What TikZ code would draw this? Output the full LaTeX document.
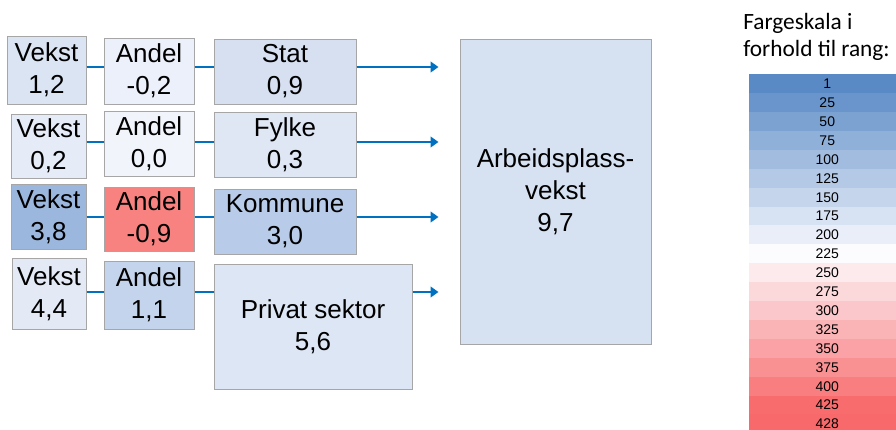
\documentclass[tikz,border=0pt]{standalone}
\usepackage{fontspec}
\setmainfont{Liberation Sans}
\newfontfamily\calibri{Carlito}
\usetikzlibrary{positioning,arrows.meta}
\definecolor{linjeblaa}{HTML}{0070C0}
\definecolor{kant}{HTML}{A6A6A6}
\definecolor{cblue}{HTML}{5A8AC6}
\definecolor{cwhite}{HTML}{FCFCFF}
\definecolor{cred}{HTML}{F8696B}

\begin{document}
\begin{tikzpicture}[x=0.75pt,y=-0.75pt]
	\tikzstyle{boks}=[rectangle, draw=kant, line width=0.75pt, inner sep=0pt, align=center,
	text=black, font=\fontsize{19.5}{24}\selectfont]
	\tikzstyle{line}=[-, draw=linjeblaa, line width=1.5pt]
	\tikzstyle{pil}=[line, -{Triangle[length=6pt,width=8pt]}, shorten >=15.75pt]
	\tikzstyle{rang}=[rectangle, inner sep=0pt, minimum width=117pt, minimum height=14.3pt,
	anchor=north west, font=\fontsize{10.5}{12}\selectfont]
	\useasboundingbox (0,0) rectangle (896,429);

	\node (Vekst1) [boks, fill={rgb,255:red,218;green,228;blue,243}, minimum width=59.25pt, minimum height=51pt] at (46.5,70) {Vekst\\1,2};
	\node (Andel1) [boks, fill={rgb,255:red,236;green,240;blue,250}, minimum width=67.5pt, minimum height=49.5pt] at (149,71) {Andel\\-0,2};
	\node (Stat) [boks, fill={rgb,255:red,214;green,224;blue,241}, minimum width=106.5pt, minimum height=48.75pt] at (285,71.5) {Stat\\0,9};

	\node (Vekst2) [boks, fill={rgb,255:red,230;green,236;blue,247}, minimum width=56.25pt, minimum height=48pt] at (48.5,146) {Vekst\\0,2};
	\node (Andel2) [boks, fill={rgb,255:red,241;green,244;blue,251}, minimum width=67.5pt, minimum height=48.75pt] at (149,143.5) {Andel\\0,0};
	\node (Fylke) [boks, fill={rgb,255:red,223;green,231;blue,245}, minimum width=106.5pt, minimum height=48.75pt] at (285,144.5) {Fylke\\0,3};

	\node (Vekst3) [boks, fill={rgb,255:red,156;green,183;blue,222}, minimum width=56.25pt, minimum height=48.75pt] at (48.5,216.5) {Vekst\\3,8};
	\node (Andel3) [boks, fill={rgb,255:red,248;green,130;blue,127}, minimum width=67.5pt, minimum height=48pt] at (149,219) {Andel\\-0,9};
	\node (Kommune) [boks, fill={rgb,255:red,184;green,203;blue,232}, minimum width=106.5pt, minimum height=48.75pt] at (285,221.5) {Kommune\\3,0};

	\node (Vekst4) [boks, fill={rgb,255:red,227;green,234;blue,246}, minimum width=55.5pt, minimum height=53.25pt] at (49,293.5) {Vekst\\4,4};
	\node (Andel4) [boks, fill={rgb,255:red,196;green,212;blue,236}, minimum width=67.5pt, minimum height=51pt] at (149,295) {Andel\\1,1};
	\node (Privat) [boks, fill={rgb,255:red,221;green,230;blue,244}, minimum width=148.5pt, minimum height=93.75pt] at (313,326.5) {Privat sektor\\5,6};

	\node (Arbeid) [boks, fill={rgb,255:red,214;green,225;blue,241}, minimum width=143.25pt, minimum height=228.75pt] at (555.5,191.5) {Arbeidsplass-\\vekst\\9,7};

	\coordinate (r1) at (0,67);
	\coordinate (r2) at (0,142);
	\coordinate (r3) at (0,217);
	\coordinate (r4) at (0,292);

	\draw[line] (Vekst1.east |- r1) -- (Andel1.west |- r1);
	\draw[line] (Andel1.east |- r1) -- (Stat.west |- r1);
	\draw[pil] (Stat.east |- r1) -- (Arbeid.west |- r1);
	\draw[line] (Vekst2.east |- r2) -- (Andel2.west |- r2);
	\draw[line] (Andel2.east |- r2) -- (Fylke.west |- r2);
	\draw[pil] (Fylke.east |- r2) -- (Arbeid.west |- r2);
	\draw[line] (Vekst3.east |- r3) -- (Andel3.west |- r3);
	\draw[line] (Andel3.east |- r3) -- (Kommune.west |- r3);
	\draw[pil] (Kommune.east |- r3) -- (Arbeid.west |- r3);
	\draw[line] (Vekst4.east |- r4) -- (Andel4.west |- r4);
	\draw[line] (Andel4.east |- r4) -- (Privat.west |- r4);
	\draw[pil] (Privat.east |- r4) -- (Arbeid.west |- r4);

	\node (Skala) [anchor=north west, inner sep=0pt, align=left, font=\calibri\fontsize{17.5}{20.5}\selectfont] at (743,13) {Fargeskala i\\forhold til rang:};
	\foreach \v [count=\i from 0] in {1,25,50,75,100,125,150,175,200,225,250,275,300,325,350,375,400,425,428}{
		\pgfmathtruncatemacro{\pb}{min(100,(\v-1)/224*100)}
		\pgfmathtruncatemacro{\pr}{max(0,(\v-225)/203*100)}
		\node (c\i) [rang, fill=cred!\pr!cwhite!\pb!cblue] at (749,{74+\i*18.9}) {\v};
	}
\end{tikzpicture}
\end{document}
